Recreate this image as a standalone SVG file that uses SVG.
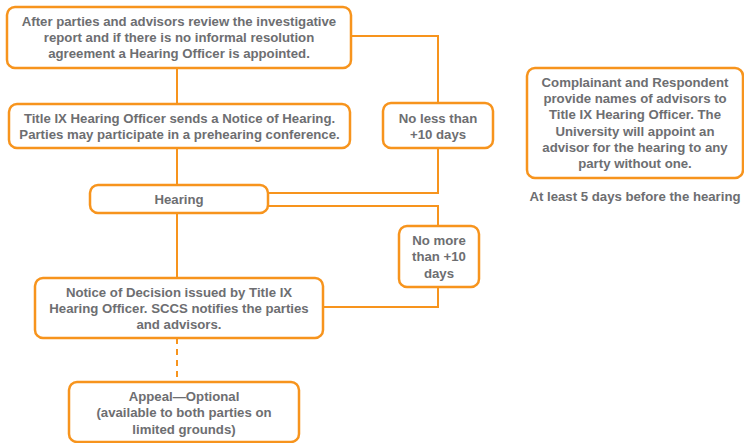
<svg xmlns="http://www.w3.org/2000/svg" width="744" height="443" viewBox="0 0 744 443">
<style>
.box{fill:#fff;stroke:#F7941D;stroke-width:2.5}
.ln{fill:none;stroke:#F7941D;stroke-width:2}
text{font-family:"Liberation Sans",Arial,sans-serif;font-size:13.2px;font-weight:bold;fill:#6D6E71;text-anchor:middle}
</style>
<rect width="744" height="443" fill="#fff"/>
<g id="connectors">
<path class="ln" d="M351 36H438V103"/>
<path class="ln" d="M177 68V104"/>
<path class="ln" d="M177 148V185"/>
<path class="ln" d="M438 148V193H268"/>
<path class="ln" d="M268 206H438V226"/>
<path class="ln" d="M438 287V307H323"/>
<path class="ln" d="M177 213V278"/>
<path class="ln" d="M177 338V382" stroke-dasharray="6 5"/>
</g>
<g id="n1"><rect class="box" x="7" y="7" width="344" height="61" rx="8"/>
<text x="179" y="25.5">After parties and advisors review the investigative</text>
<text x="179" y="41.5">report and if there is no informal resolution</text>
<text x="179" y="57.5">agreement a Hearing Officer is appointed.</text></g>
<g id="n2"><rect class="box" x="9" y="104" width="341" height="44" rx="8"/>
<text x="179.5" y="122.5">Title IX Hearing Officer sends a Notice of Hearing.</text>
<text x="179.5" y="138.5">Parties may participate in a prehearing conference.</text></g>
<g id="n3"><rect class="box" x="383" y="103" width="110" height="45" rx="8"/>
<text x="438" y="122.5">No less than</text>
<text x="438" y="138.5">+10 days</text></g>
<g id="n4"><rect class="box" x="90" y="185" width="178" height="28" rx="8"/>
<text x="179" y="203.5">Hearing</text></g>
<g id="n5"><rect class="box" x="399" y="226" width="80" height="61" rx="8"/>
<text x="439" y="244.5">No more</text>
<text x="439" y="260.5">than +10</text>
<text x="439" y="277.5">days</text></g>
<g id="n6"><rect class="box" x="35" y="278" width="288" height="60" rx="8"/>
<text x="179" y="296.5">Notice of Decision issued by Title IX</text>
<text x="179" y="312.5">Hearing Officer. SCCS notifies the parties</text>
<text x="179" y="328.5">and advisors.</text></g>
<g id="n7"><rect class="box" x="69" y="382" width="230" height="60" rx="8"/>
<text x="184" y="400.5">Appeal—Optional</text>
<text x="184" y="416.5">(available to both parties on</text>
<text x="184" y="433.5">limited grounds)</text></g>
<g id="n8"><rect class="box" x="527" y="68" width="216" height="110" rx="8"/>
<text x="635" y="86.5">Complainant and Respondent</text>
<text x="635" y="102.5">provide names of advisors to</text>
<text x="635" y="118.5">Title IX Hearing Officer. The</text>
<text x="635" y="135.5">University will appoint an</text>
<text x="635" y="151.5">advisor for the hearing to any</text>
<text x="635" y="167.5">party without one.</text>
<text x="635" y="200.5">At least 5 days before the hearing</text></g>
</svg>
